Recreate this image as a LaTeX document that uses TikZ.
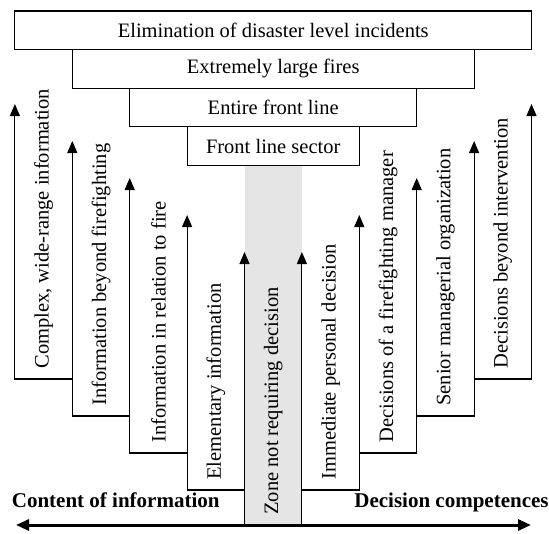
\documentclass[tikz,border=0pt]{standalone}
\usepackage{fontspec}
\setmainfont{Liberation Serif}
\usepackage{tikz}
\usetikzlibrary{positioning,arrows.meta}

\begin{document}
\begin{tikzpicture}[x=1pt,y=-1pt,thick]
  \tikzstyle{level} = [draw,fill=white,line width=1.1pt,minimum height=38.6pt,inner sep=0pt,outer sep=0pt,font=\fontsize{20.5}{24}\selectfont]
  \tikzstyle{vtext} = [rotate=90,anchor=west,inner sep=0pt,font=\fontsize{20.5}{24}\selectfont]
  \tikzstyle{axistext} = [anchor=base west,inner sep=0pt,font=\fontsize{21}{24}\selectfont\bfseries]
  \tikzstyle{stair} = [line width=1.1pt,-{Triangle[length=12pt,width=10pt]}]
  \tikzstyle{axis} = [line width=3pt,{Triangle[length=13pt,width=11pt]}-{Triangle[length=13pt,width=11pt]}]
  \tikzstyle{zone} = [fill=gray!20]
  %
  \useasboundingbox (0,0) rectangle (549,533);
  % Grey zone in the middle.
  \fill[zone] (244.5,165.4) rectangle (301.9,525);
  % Levels, widest on top.
  \node[level,minimum width=516.6pt] (lev1) at (273.2,30.3) {Elimination of disaster level incidents};
  \node[level,minimum width=401.8pt,below=0pt of lev1] (lev2) {Extremely large fires};
  \node[level,minimum width=287pt,below=0pt of lev2] (lev3) {Entire front line};
  \node[level,minimum width=172.2pt,below=0pt of lev3] (lev4) {Front line sector};
  % Feet and tips of the arrows.
  \coordinate (foot1) at (14.9,379);  \coordinate (tip1) at (14.9,104);
  \coordinate (foot2) at (72.3,416);  \coordinate (tip2) at (72.3,141);
  \coordinate (foot3) at (129.7,453); \coordinate (tip3) at (129.7,178);
  \coordinate (foot4) at (187.1,490); \coordinate (tip4) at (187.1,215);
  \coordinate (foot5) at (244.5,525); \coordinate (tip5) at (244.5,252);
  \coordinate (foot6) at (301.9,525); \coordinate (tip6) at (301.9,252);
  \coordinate (foot7) at (359.3,490); \coordinate (tip7) at (359.3,215);
  \coordinate (foot8) at (416.7,453); \coordinate (tip8) at (416.7,178);
  \coordinate (foot9) at (474.1,416); \coordinate (tip9) at (474.1,141);
  \coordinate (foot10) at (531.5,379); \coordinate (tip10) at (531.5,104);
  % Left stairs.
  \draw[stair] (foot2 |- foot1) -- (foot1) -- (tip1);
  \draw[stair] (foot3 |- foot2) -- (foot2) -- (tip2);
  \draw[stair] (foot4 |- foot3) -- (foot3) -- (tip3);
  \draw[stair] (foot5 |- foot4) -- (foot4) -- (tip4);
  \draw[stair] (foot5) -- (tip5);
  % Right stairs.
  \draw[stair] (foot6) -- (tip6);
  \draw[stair] (foot6 |- foot7) -- (foot7) -- (tip7);
  \draw[stair] (foot7 |- foot8) -- (foot8) -- (tip8);
  \draw[stair] (foot8 |- foot9) -- (foot9) -- (tip9);
  \draw[stair] (foot9 |- foot10) -- (foot10) -- (tip10);
  % Labels along the arrows.
  \node[vtext] (inf1) at (43.6,369) {Complex, wide-range information};
  \node[vtext] (inf2) at (101,406) {Information beyond firefighting};
  \node[vtext] (inf3) at (158.4,443) {Information in relation to fire};
  \node[vtext] (inf4) at (215.8,480) {Elementary information};
  \node[vtext] (zone) at (273.2,515) {Zone not requiring decision};
  \node[vtext] (dec1) at (330.6,480) {Immediate personal decision};
  \node[vtext] (dec2) at (388,443) {Decisions of a firefighting manager};
  \node[vtext] (dec3) at (445.4,406) {Senior managerial organization};
  \node[vtext] (dec4) at (502.8,369) {Decisions beyond intervention};
  % Bottom axis.
  \coordinate (axl) at (16,525);
  \coordinate (axr) at (531,525);
  \draw[axis] (axl) -- (axr);
  \node[axistext] (content) at (11.5,507) {Content of information};
  \node[axistext,anchor=base east] (competence) at (549,507) {Decision competences};
\end{tikzpicture}
\end{document}
